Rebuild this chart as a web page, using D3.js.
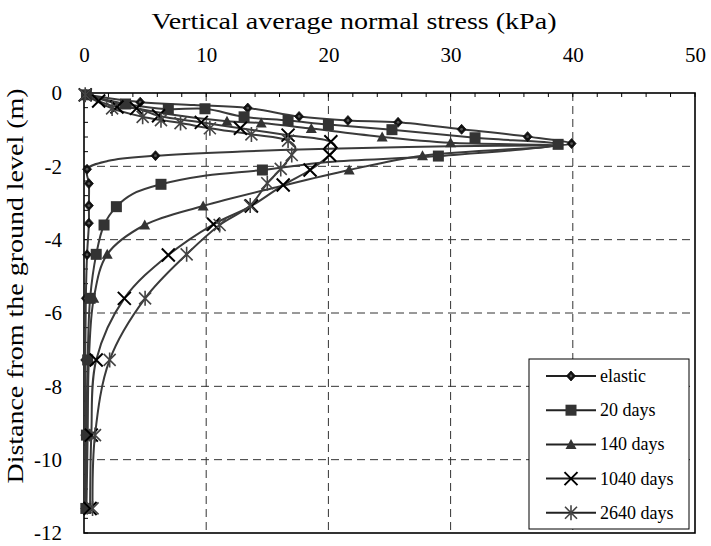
<!DOCTYPE html>
<html><head><meta charset="utf-8">
<script src="https://cdn.jsdelivr.net/npm/d3@7/dist/d3.min.js"></script>
<style>body{margin:0;background:#fff}svg{display:block}</style>
</head><body><svg id="c" width="711" height="546"></svg>
<script>
// [stress kPa, depth m, marker shown 1/0]
const elastic = [[0.2,-0.05,1],[4.6,-0.25,1],[9,-0.33,0],[13.4,-0.41,1],[17.6,-0.64,1],[21.6,-0.75,1],[25.7,-0.8,1],[30.9,-0.99,1],[36.3,-1.19,1],[39.9,-1.38,1],[30,-1.45,0],[20,-1.52,0],[13.4,-1.59,0],[5.85,-1.71,1],[2,-1.85,0],[0.25,-2.08,1],[0.4,-2.47,1],[0.4,-3.07,1],[0.4,-3.55,1],[0.25,-4.41,1],[0.15,-5.6,1],[0.1,-7.28,1],[0.1,-9.33,1],[0.1,-11.33,1]];
const days20 = [[0.2,-0.05,1],[3.4,-0.3,1],[6.9,-0.44,1],[9.9,-0.43,1],[13.1,-0.65,1],[16.7,-0.75,1],[20.0,-0.86,1],[25.2,-1.0,1],[32.0,-1.22,1],[38.8,-1.4,1],[29.0,-1.72,1],[20,-1.88,0],[14.6,-2.1,1],[10,-2.25,0],[6.3,-2.49,1],[4,-2.75,0],[2.65,-3.1,1],[1.64,-3.6,1],[1.0,-4.4,1],[0.5,-5.6,1],[0.3,-7.28,1],[0.2,-9.33,1],[0.15,-11.33,1]];
const days140 = [[0.2,-0.05,1],[3,-0.32,0],[7,-0.58,0],[11.7,-0.77,1],[14.5,-0.82,1],[18.6,-0.97,1],[24.4,-1.2,1],[30.0,-1.36,1],[38.5,-1.44,0],[27.7,-1.71,1],[21.7,-2.1,1],[16,-2.55,0],[9.75,-3.08,1],[4.97,-3.6,1],[1.9,-4.4,1],[0.8,-5.6,1],[0.4,-7.28,1],[0.3,-9.33,1],[0.2,-11.33,1]];
const days1040 = [[0.1,-0.05,1],[1.2,-0.22,1],[2.7,-0.38,1],[4.3,-0.42,1],[6.1,-0.62,1],[9.6,-0.8,1],[12.8,-0.96,1],[16.7,-1.15,1],[20.2,-1.33,1],[20.6,-1.5,0],[20.1,-1.69,1],[18.5,-2.1,1],[16.3,-2.51,1],[13.7,-3.08,1],[10.6,-3.58,1],[6.9,-4.42,1],[3.3,-5.6,1],[1.0,-7.28,1],[0.6,-9.33,1],[0.5,-11.33,1]];
const days2640 = [[0.1,-0.05,1],[2.3,-0.42,1],[4.8,-0.65,1],[6.3,-0.74,1],[7.9,-0.82,1],[10.3,-0.96,1],[13.7,-1.13,1],[16.7,-1.3,1],[17.3,-1.5,0],[17.0,-1.69,1],[16.1,-2.07,1],[15.0,-2.46,1],[13.6,-3.07,1],[11.1,-3.6,1],[8.4,-4.4,1],[5.0,-5.6,1],[2.1,-7.28,1],[0.9,-9.33,1],[0.7,-11.33,1]];
const seriesNames = ["elastic","20 days","140 days","1040 days","2640 days"];
const seriesSymbols = ["diamond","square","triangle","cross","star"];
const xTicks = [0,10,20,30,40,50];
const yTicks = [0,-2,-4,-6,-8,-10,-12];
const xTitle = "Vertical average normal stress (kPa)";
const yTitle = "Distance from the ground level (m)";

const FONT = '"Liberation Serif","Times New Roman",serif';
const allSeries = [elastic, days20, days140, days1040, days2640];
const svg = d3.select("#c");
const x = d3.scaleLinear().domain([0,50]).range([84,695]);
const y = d3.scaleLinear().domain([0,-12]).range([93,533]);

// grid
const grid = svg.append("g").attr("stroke","#333").attr("stroke-width",1).attr("stroke-dasharray","8,5");
xTicks.slice(1,-1).forEach(v=>grid.append("line").attr("x1",x(v)).attr("x2",x(v)).attr("y1",y(0)).attr("y2",y(-12)));
yTicks.slice(1,-1).forEach(v=>grid.append("line").attr("x1",x(0)).attr("x2",x(50)).attr("y1",y(v)).attr("y2",y(v)));

// minor inward ticks
const mt = svg.append("g").attr("stroke","#000").attr("stroke-width",1);
d3.range(0,50.01,2).forEach(v=>mt.append("line").attr("x1",x(v)).attr("x2",x(v)).attr("y1",y(0)).attr("y2",y(0)+4));
d3.range(0,-12.01,-0.4).forEach(v=>mt.append("line").attr("x1",x(0)).attr("x2",x(0)+4).attr("y1",y(v)).attr("y2",y(v)));

// axes (labels)
const xa = svg.append("g").attr("transform",`translate(0,${y(0)})`)
  .call(d3.axisTop(x).tickValues(xTicks).tickSize(0).tickPadding(31).tickFormat(d=>String(d)));
xa.attr("font-family",null).attr("font-size",null);
xa.select(".domain").remove();
xa.selectAll("text").style("font-family",FONT).style("font-size","21px").attr("fill","#000");
const ya = svg.append("g").attr("transform",`translate(${x(0)},0)`)
  .call(d3.axisLeft(y).tickValues(yTicks).tickSize(0).tickPadding(22).tickFormat(d=>String(d)));
ya.attr("font-family",null).attr("font-size",null);
ya.select(".domain").remove();
ya.selectAll("text").style("font-family",FONT).style("font-size","21px").attr("fill","#000");

// frame
svg.append("rect").attr("x",x(0)).attr("y",y(0)).attr("width",x(50)-x(0)).attr("height",y(-12)-y(0))
  .attr("fill","none").attr("stroke","#000").attr("stroke-width",1.6);

// titles
svg.append("text").attr("x",354).attr("y",29).attr("text-anchor","middle").style("font-family",FONT).style("font-size","24px")
  .attr("textLength",405).attr("lengthAdjust","spacingAndGlyphs").text(xTitle);
svg.append("text").attr("transform","translate(23,286) rotate(-90)").attr("text-anchor","middle").style("font-family",FONT).style("font-size","24px")
  .attr("textLength",395).attr("lengthAdjust","spacingAndGlyphs").text(yTitle);

function drawSymbol(g, type, cx, cy){
  if(type==="diamond"){
    g.append("path").attr("d",`M${cx},${cy-5}L${cx+4.5},${cy}L${cx},${cy+5}L${cx-4.5},${cy}Z`).attr("fill","#111").attr("stroke","#111").attr("stroke-width",0.8);
    g.append("circle").attr("cx",cx).attr("cy",cy).attr("r",1.4).attr("fill","#555");
  } else if(type==="square"){
    g.append("rect").attr("x",cx-5.5).attr("y",cy-5.5).attr("width",11).attr("height",11).attr("fill","#333");
  } else if(type==="triangle"){
    g.append("path").attr("d",`M${cx},${cy-5.5}L${cx+5.5},${cy+4.5}L${cx-5.5},${cy+4.5}Z`).attr("fill","#333");
  } else if(type==="cross"){
    g.append("path").attr("d",`M${cx-6.5},${cy-6.5}L${cx+6.5},${cy+6.5}M${cx-6.5},${cy+6.5}L${cx+6.5},${cy-6.5}`).attr("stroke","#000").attr("stroke-width",2).attr("fill","none");
  } else {
    g.append("path").attr("d",`M${cx-6},${cy-6}L${cx+6},${cy+6}M${cx-6},${cy+6}L${cx+6},${cy-6}M${cx},${cy-7.5}L${cx},${cy+7.5}`).attr("stroke","#444").attr("stroke-width",1.6).attr("fill","none");
  }
}

const line = d3.line().x(d=>x(d[0])).y(d=>y(d[1])).curve(d3.curveCatmullRom.alpha(0.5));
const plot = svg.append("g");
allSeries.forEach((s,i)=>{
  plot.append("path").attr("d",line(s)).attr("fill","none").attr("stroke","#3a3a3a").attr("stroke-width",2);
});
allSeries.forEach((s,i)=>{
  const g = plot.append("g");
  s.filter(d=>d[2]).forEach(d=>drawSymbol(g, seriesSymbols[i], x(d[0]), y(d[1])));
});

// legend
const lg = svg.append("g");
lg.append("rect").attr("x",529).attr("y",359).attr("width",160).attr("height",170).attr("fill","#fff").attr("stroke","#000").attr("stroke-width",1);
seriesNames.forEach((n,i)=>{
  const cy = 376 + i*34.2;
  lg.append("line").attr("x1",546).attr("x2",596).attr("y1",cy).attr("y2",cy).attr("stroke","#222").attr("stroke-width",2);
  drawSymbol(lg, seriesSymbols[i], 571, cy);
  lg.append("text").attr("x",600).attr("y",cy+6).style("font-family",FONT).style("font-size","18px").text(n);
});
</script></body></html>
